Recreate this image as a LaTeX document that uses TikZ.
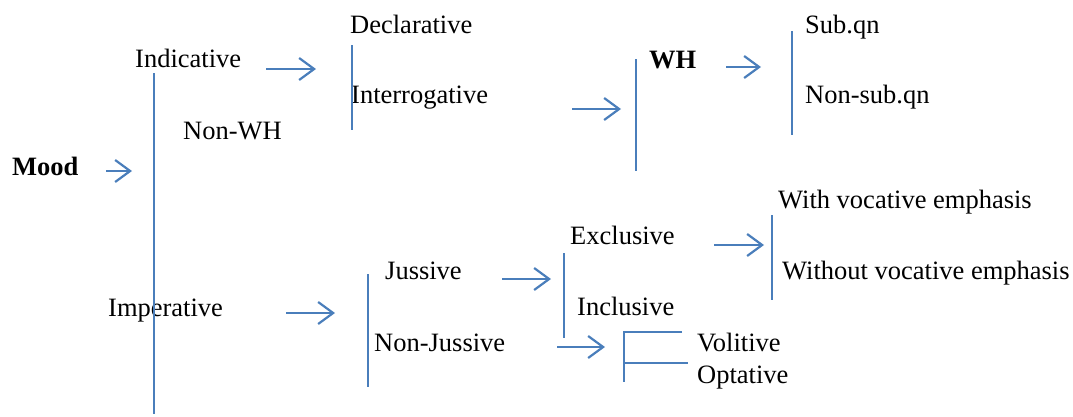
\documentclass[tikz,border=0pt]{standalone}
\usepackage{fontspec}
\setmainfont{Liberation Serif}
\usetikzlibrary{arrows.meta}
\definecolor{lineblue}{RGB}{74,126,187}
\begin{document}
\begin{tikzpicture}[x=1pt,y=-1pt,
  lbl/.style={anchor=base west,inner sep=0pt,font=\fontsize{26.5}{30}\selectfont},
  bl/.style={draw=lineblue,line width=2.2pt},
  arr/.style={draw=lineblue,line width=2.2pt,-{Straight Barb[length=15pt,width=22pt,line width=2.2pt]}}]
\useasboundingbox (0,0) rectangle (1073,416);
% text
\node[lbl] (mood) at (12,175) {\textbf{Mood}};
\node[lbl] (ind) at (135,67) {Indicative};
\node[lbl] (nonwh) at (183,139) {Non-WH};
\node[lbl] (imp) at (108,316) {Imperative};
\node[lbl] (decl) at (350,33) {Declarative};
\node[lbl] (inter) at (351,103) {Interrogative};
\node[lbl] (wh) at (649,68) {\textbf{WH}};
\node[lbl] (sub) at (805,33) {Sub.qn};
\node[lbl] (nonsub) at (805,103) {Non-sub.qn};
\node[lbl] (juss) at (385,279) {Jussive};
\node[lbl] (nonjuss) at (374,351) {Non-Jussive};
\node[lbl] (excl) at (570,244) {Exclusive};
\node[lbl] (incl) at (577,315) {Inclusive};
\node[lbl] (withv) at (778,208) {With vocative emphasis};
\node[lbl] (withoutv) at (782,279) {Without vocative emphasis};
\node[lbl] (vol) at (697,351) {Volitive};
\node[lbl] (opt) at (697,383) {Optative};
% coordinates
\coordinate (a1s) at (106,171); \coordinate (a1e) at (132,171);
\coordinate (a2s) at (266,69);  \coordinate (a2e) at (316,69);
\coordinate (a3s) at (572,109); \coordinate (a3e) at (621,109);
\coordinate (a4s) at (726,67);  \coordinate (a4e) at (761,67);
\coordinate (a5s) at (286,313); \coordinate (a5e) at (335,313);
\coordinate (a6s) at (502,279); \coordinate (a6e) at (551,279);
\coordinate (a7s) at (714,245); \coordinate (a7e) at (764,245);
\coordinate (a8s) at (557,347); \coordinate (a8e) at (605,347);
\coordinate (v1t) at (154,73);  \coordinate (v1b) at (154,414);
\coordinate (v2t) at (352,45);  \coordinate (v2b) at (352,130);
\coordinate (v3t) at (636,59);  \coordinate (v3b) at (636,171);
\coordinate (v4t) at (792,31);  \coordinate (v4b) at (792,135);
\coordinate (v5t) at (368,274); \coordinate (v5b) at (368,387);
\coordinate (v6t) at (564,253); \coordinate (v6b) at (564,338);
\coordinate (v7t) at (772,215); \coordinate (v7b) at (772,300);
\coordinate (b8a) at (682,332); \coordinate (b8t) at (624,332);
\coordinate (b8b) at (624,382); \coordinate (b8m) at (624,363);
\coordinate (b8n) at (688,363);
% arrows
\draw[arr] (a1s) -- (a1e);
\draw[arr] (a2s) -- (a2e);
\draw[arr] (a3s) -- (a3e);
\draw[arr] (a4s) -- (a4e);
\draw[arr] (a5s) -- (a5e);
\draw[arr] (a6s) -- (a6e);
\draw[arr] (a7s) -- (a7e);
\draw[arr] (a8s) -- (a8e);
% bars
\draw[bl] (v1t) -- (v1b);
\draw[bl] (v2t) -- (v2b);
\draw[bl] (v3t) -- (v3b);
\draw[bl] (v4t) -- (v4b);
\draw[bl] (v5t) -- (v5b);
\draw[bl] (v6t) -- (v6b);
\draw[bl] (v7t) -- (v7b);
\draw[bl] (b8a) -- (b8t) -- (b8b);
\draw[bl] (b8m) -- (b8n);
\end{tikzpicture}
\end{document}
